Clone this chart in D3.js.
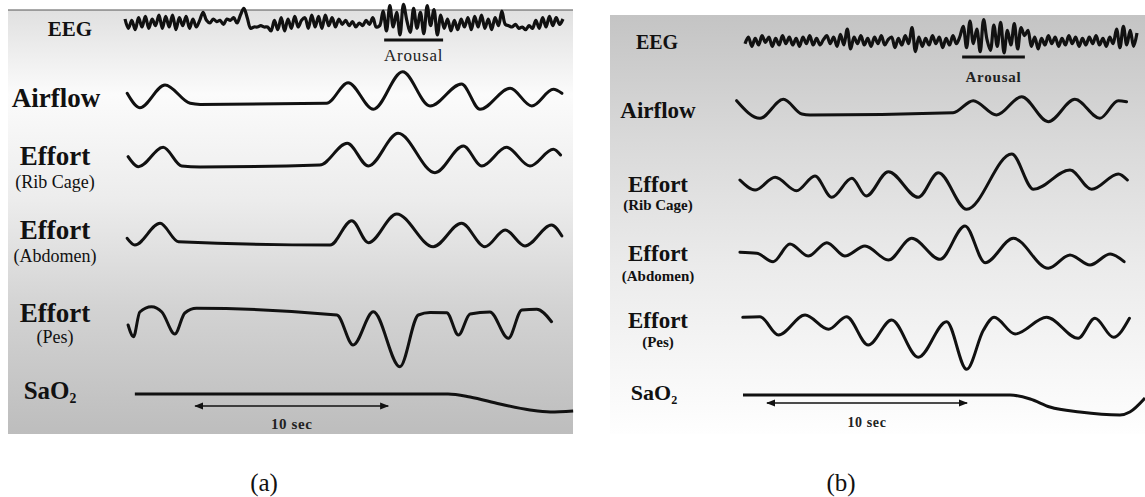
<!DOCTYPE html>
<html><head><meta charset="utf-8">
<script src="https://cdn.jsdelivr.net/npm/d3@7"></script>
<style>body{margin:0;background:#fff}svg{display:block}</style>
</head><body>
<svg id="c" width="1145" height="497"></svg>
<script>
// ---------------- DATA ----------------
const rowLabels = ["EEG", "Airflow", "Effort", "Effort", "Effort", "SaO"];
const rowSubLabels = ["", "", "(Rib Cage)", "(Abdomen)", "(Pes)", ""];
const panelCaptions = ["(a)", "(b)"];
const arousalText = "Arousal";
const scaleText = "10 sec";

// Panel (a) : [time (0-100), amplitude]
const eegA = [3,-4,2,-5,4,-3,5,-4,3,-2,6,-4,5,-3,6,-5,4,-2,5,-4,3,-3,2,
  8,
  2,0,3,1,2,-1,3,2,4,
  0,6,11,4,-4,
  -3,-3,-2,-3,-3,
  -6,2,-5,4,-6,3,-4,5,-3,2,
  4,-4,6,-3,5,-4,6,-2,4,-3,3,-1,2,-2,1,-3,0,-2,2,-1,4,-3,-2,
  9,-6,13,-3,8,-9,14,2,-7,11,-4,8,-8,13,-2,10,-9,6,
  -4,3,-6,2,-5,3,-3,
  4,-5,5,-3,6,-4,3,-5,4,-2,9,-1,
  -2,-3,-1,-4,-3,-5,-2,-4,
  2,-4,4,-3,5,-2,4,-1,3];
const airflowA = [[1.6,10.7],[4.4,-3.7],[10,19],[15.6,0.7],[17.8,-0.4],[45.9,0.7],[50.7,21.3],[56.3,-5.3],[62.8,32.3],[68.9,-2],[75.9,20],[80,-5.3],[86.7,15.7],[91.5,-2],[96.3,14.7],[98.2,10.7]];
const ribA = [[1.8,9.3],[4.1,-0.7],[9.6,18.7],[13.7,0],[17.8,-1],[44.4,1],[50.5,22.7],[55.2,0],[61.8,32.7],[70,-6.7],[76.3,20],[80.4,0],[85.9,18.7],[91.1,0],[96.3,16.7],[97.9,11]];
const abdA = [[1.6,6.7],[3.3,0],[8.9,21.7],[13,3.3],[46.7,0],[51.5,24.3],[55.2,2.3],[61.5,31],[69.6,-1.7],[75.9,21.7],[81.1,-1.7],[85.6,15],[90,-1],[95.9,20],[98.2,9]];
const pesA = [[1.8,-15],[3,-26.7],[4.4,-2],[7,3.3],[9.3,-2],[12.2,-24],[14.4,-3],[17,1.7],[48.2,-5],[51.8,-35],[56.3,-1.7],[62.2,-56.7],[66.3,-5],[68.9,-2.5],[72.6,-2.7],[75.2,-25],[77.8,-4],[82.2,-2],[86.3,-28.3],[89.3,0],[92.6,0.7],[95.9,-11.7]];
const sao2A = [[3.3,0],[72.9,0],[77.8,-3],[84.4,-10],[91.1,-16],[95.6,-18],[100.7,-17]];
const arousalA = [58.7, 71.8];
const tenSecA = [16.7, 59.6];

// Panel (b)
const eegB = [-2,3,-4,2,-3,4,-1,3,-4,2,-3,4,-2,3,-3,2,-4,3,-2,4,-3,
  2,-3,1,4,-2,3,-4,5,-3,9,-6,3,-2,4,-3,
  2,-4,3,-2,4,-3,1,3,-5,2,-3,4,-2,
  10,-8,3,-4,2,-3,4,-2,3,-5,2,-3,4,-2,3,
  11,-5,15,-2,9,-8,16,1,-7,12,-4,14,-9,8,-3,13,-6,10,4,
  8,-4,3,-6,2,-3,4,-2,3,-4,2,-3,4,-2,3,-4,2,-3,
  3,-2,4,-3,2,-4,3,-2,9,-5,11,-3,8,-4,6];
const airflowB = [[0.4,12.3],[6.1,-5.3],[11.8,13.7],[16.3,-1],[18.3,-2],[53.2,0.3],[58.1,12.3],[63.8,-2],[69.9,16.3],[76.4,-8.7],[82.9,13.7],[89,-5.3],[93.5,12.3],[95.5,11.3]];
const ribB = [[1.2,2],[4.9,-8],[9.8,4.7],[15,-8.7],[19.5,6],[23.6,-15.3],[28.5,3.7],[32,-14],[37.4,10.3],[44.7,-15.3],[49.6,9.3],[56.5,-27.3],[67.5,28],[72.8,-7.3],[81.7,12],[87,-7.3],[93.5,8],[95.7,2]];
const abdB = [[1.2,-0.3],[5.3,-1.3],[9.3,-9.7],[13.4,8],[17.9,-4],[22.4,9.3],[26.8,-4],[31.7,6],[37.4,-8],[43.1,13.7],[50,-7.3],[56.1,26],[61,-10.7],[67.9,13.7],[76.4,-16.3],[81.7,-3],[86.6,-13],[91.5,-2],[94.9,-9.7]];
const pesB = [[1.9,0.7],[6.1,1.3],[10.6,-17],[17.1,3],[22.8,-11.3],[27.2,1.3],[32.5,-27],[38.2,-2],[44.7,-39.3],[51.6,-3.7],[56.5,-51.3],[60.6,-12],[63.2,0.7],[68.3,-16],[76,0.7],[83.7,-20.3],[87.8,-0.3],[92.3,-19.3],[96.2,-0.3]];
const sao2B = [[1.95,0],[67.1,0],[72,-4],[76.8,-12],[84.1,-17],[93.9,-20],[96.3,-17],[100,-3]];
const arousalB = [55.4, 70.7];
const tenSecB = [7.8, 56.6];

// ---------------- LAYOUT ----------------
const svg = d3.select("#c");
const defs = svg.append("defs");
function grad(id, stops) {
  const g = defs.append("linearGradient").attr("id", id).attr("x1",0).attr("y1",0).attr("x2",0).attr("y2",1);
  stops.forEach(s => g.append("stop").attr("offset", s[0]).attr("stop-color", s[1]));
}
grad("gA", [[0,"#e0e0e0"],[0.2,"#fbfbfb"],[0.45,"#ececec"],[0.7,"#d3d3d3"],[1,"#bdbdbd"]]);
grad("gB", [[0,"#c4c4c4"],[0.3,"#d9d9d9"],[0.6,"#ebebeb"],[1,"#fefefe"]]);
defs.append("marker").attr("id","arr").attr("viewBox","0 0 10 10").attr("refX",9).attr("refY",5)
  .attr("markerWidth",6).attr("markerHeight",6).attr("orient","auto-start-reverse")
  .append("path").attr("d","M0,1L10,5L0,9Z").attr("fill","#111");

const panels = [
  {bg:[8,10,573,434], fill:"url(#gA)", topLine:true, xr:[120,570], eegR:[125,563],
   rows:[23,104,166,245,310,394], eeg:eegA, series:[airflowA, ribA, abdA, pesA], sao2:sao2A,
   arousal:arousalA, arousalY:40, arousalTextY:61, tenSec:tenSecA, arrowY:406, tenTextY:429,
   captionX:264, captionY:491, sw:3,
   lab:{x:[70,56,55,55,55,50], y:[36,107,165,239,322,399], size:[21,27,27,27,27,25], subY:[0,0,188,262,343,0], subSize:18, subWeight:"normal"},
   arousalSize:17, tenSize:15},
  {bg:[610,15,1145,434], fill:"url(#gB)", topLine:false, xr:[735,1145], eegR:[745,1137],
   rows:[41,113,182,252,318,395], eeg:eegB, series:[airflowB, ribB, abdB, pesB], sao2:sao2B,
   arousal:arousalB, arousalY:57, arousalTextY:82, tenSec:tenSecB, arrowY:403, tenTextY:427,
   captionX:841, captionY:491, sw:3,
   lab:{x:[657,658,658,658,658,654], y:[49,118,192,261,328,400], size:[20,23,23,23,23,22], subY:[0,0,210,281,347,0], subSize:15, subWeight:"bold"},
   arousalSize:15, tenSize:14}
];

const font = "'Liberation Serif','Times New Roman',serif";

panels.forEach((p, pi) => {
  const g = svg.append("g");
  g.append("rect").attr("x",p.bg[0]).attr("y",p.bg[1]).attr("width",p.bg[2]-p.bg[0]).attr("height",p.bg[3]-p.bg[1]).attr("fill",p.fill);
  if (p.topLine) g.append("line").attr("x1",p.bg[0]).attr("x2",p.bg[2]).attr("y1",p.bg[1]).attr("y2",p.bg[1]).attr("stroke","#555").attr("stroke-width",1.2);

  const x = d3.scaleLinear().domain([0,100]).range(p.xr);
  const yFor = c => d3.scaleLinear().domain([-20,20]).range([c+20,c-20]);

  // EEG
  const xe = d3.scaleLinear().domain([0,p.eeg.length-1]).range(p.eegR);
  const ye = d3.scaleLinear().domain([-15,15]).range([p.rows[0]+20,p.rows[0]-20]);
  g.append("path").datum(p.eeg).attr("fill","none").attr("stroke","#111").attr("stroke-width",3.2)
    .attr("stroke-linejoin","round")
    .attr("d", d3.line().x((d,i)=>xe(i)).y(d=>ye(d)).curve(d3.curveCatmullRom.alpha(0.5)));

  // waves
  p.series.forEach((s, si) => {
    const y = yFor(p.rows[si+1]);
    g.append("path").datum(s).attr("fill","none").attr("stroke","#111").attr("stroke-width",p.sw)
      .attr("stroke-linecap","round")
      .attr("d", d3.line().x(d=>x(d[0])).y(d=>y(d[1])).curve(d3.curveMonotoneX));
  });
  // SaO2
  const ys = yFor(p.rows[5]);
  g.append("path").datum(p.sao2).attr("fill","none").attr("stroke","#111").attr("stroke-width",p.sw)
    .attr("d", d3.line().x(d=>x(d[0])).y(d=>ys(d[1])).curve(d3.curveMonotoneX));

  // Arousal bar
  g.append("line").attr("x1",x(p.arousal[0])).attr("x2",x(p.arousal[1])).attr("y1",p.arousalY).attr("y2",p.arousalY)
    .attr("stroke","#111").attr("stroke-width",3);
  g.append("text").attr("x",(x(p.arousal[0])+x(p.arousal[1]))/2).attr("y",p.arousalTextY)
    .attr("text-anchor","middle").attr("font-family",font).attr("font-size",p.arousalSize)
    .attr("font-weight", pi===1?"bold":"normal").attr("letter-spacing",0.8).attr("fill","#222").text(arousalText);

  // 10 sec arrow
  g.append("line").attr("x1",x(p.tenSec[0])).attr("x2",x(p.tenSec[1])).attr("y1",p.arrowY).attr("y2",p.arrowY)
    .attr("stroke","#111").attr("stroke-width",1.5).attr("marker-start","url(#arr)").attr("marker-end","url(#arr)");
  g.append("text").attr("x",(x(p.tenSec[0])+x(p.tenSec[1]))/2).attr("y",p.tenTextY)
    .attr("text-anchor","middle").attr("font-family",font).attr("font-size",p.tenSize)
    .attr("font-weight","bold").attr("letter-spacing",0.6).attr("fill","#222").text(scaleText);

  // labels
  rowLabels.forEach((t, i) => {
    const tx = g.append("text").attr("x",p.lab.x[i]).attr("y",p.lab.y[i]).attr("text-anchor","middle")
      .attr("font-family",font).attr("font-size",p.lab.size[i]).attr("font-weight","bold").attr("fill","#111");
    tx.text(t);
    if (i === 5) tx.append("tspan").attr("font-size",p.lab.size[i]*0.55).attr("dy",4).text("2");
    if (rowSubLabels[i]) {
      g.append("text").attr("x",p.lab.x[i]).attr("y",p.lab.subY[i]).attr("text-anchor","middle")
        .attr("font-family",font).attr("font-size",p.lab.subSize).attr("font-weight",p.lab.subWeight)
        .attr("fill","#111").text(rowSubLabels[i]);
    }
  });

  svg.append("text").attr("x",p.captionX).attr("y",p.captionY).attr("text-anchor","middle")
    .attr("font-family",font).attr("font-size",25).attr("fill","#111").text(panelCaptions[pi]);
});
</script>
</body></html>
